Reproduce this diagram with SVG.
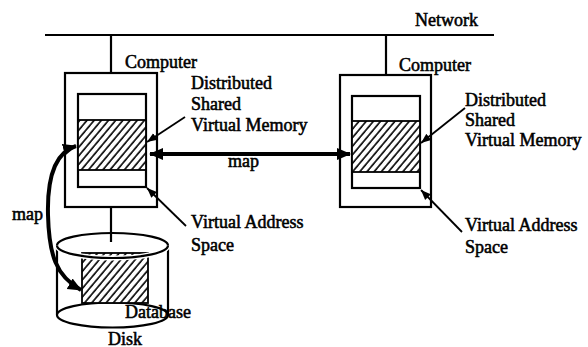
<svg xmlns="http://www.w3.org/2000/svg" width="588" height="347" viewBox="0 0 588 347">
<style>
.t{font-family:"Liberation Serif","Times New Roman",serif;font-size:18px;fill:#000;stroke:#000;stroke-width:0.55}
.box{fill:#fff;stroke:#000;stroke-width:2.2}
.ln{fill:none;stroke:#000;stroke-width:2.2}
.lead{fill:none;stroke:#000;stroke-width:1.8}
.thick{fill:none;stroke:#000;stroke-width:4}
.hat{fill:url(#hatch);stroke:#000;stroke-width:1.8}
</style>
<defs>
<pattern id="hatch" patternUnits="userSpaceOnUse" width="5.5" height="5.5" patternTransform="rotate(40)">
<rect width="5.5" height="5.5" fill="#fff"/>
<line x1="1" y1="0" x2="1" y2="5.5" stroke="#000" stroke-width="1.6"/>
</pattern>
<marker id="ah" markerUnits="userSpaceOnUse" markerWidth="12" markerHeight="10" refX="10" refY="5" orient="auto-start-reverse">
<path d="M0,1 L10,5 L0,9 Z" fill="#000"/>
</marker>
<marker id="ahb" markerUnits="userSpaceOnUse" markerWidth="16" markerHeight="14" refX="13" refY="7" orient="auto-start-reverse">
<path d="M0,1 L14,7 L0,13 Z" fill="#000"/>
</marker>
</defs>
<rect width="588" height="347" fill="#fff"/>

<g id="network">
<line class="ln" x1="45" y1="35" x2="494" y2="35"/>
<text class="t" x="415" y="26">Network</text>
</g>

<g id="computer-left">
<line class="ln" x1="111" y1="35" x2="111" y2="73"/>
<rect class="box" x="65" y="73" width="92" height="134"/>
<rect class="box" x="78" y="94" width="68" height="93"/>
<rect class="hat" x="78" y="120" width="68" height="50"/>
<text class="t" x="125" y="68">Computer</text>
<text class="t" x="191" y="89">Distributed</text>
<text class="t" x="191" y="110">Shared</text>
<text class="t" x="191" y="131">Virtual Memory</text>
<text class="t" x="191" y="228">Virtual Address</text>
<text class="t" x="191" y="251">Space</text>
</g>

<g id="computer-right">
<line class="ln" x1="386" y1="35" x2="386" y2="75"/>
<rect class="box" x="340" y="75" width="91" height="132"/>
<rect class="box" x="352" y="96" width="68" height="92"/>
<rect class="hat" x="352" y="121" width="68" height="51"/>
<text class="t" x="399" y="71">Computer</text>
<text class="t" x="465" y="106">Distributed</text>
<text class="t" x="465" y="126">Shared</text>
<text class="t" x="465" y="146">Virtual Memory</text>
<text class="t" x="465" y="231">Virtual Address</text>
<text class="t" x="465" y="253">Space</text>
</g>

<g id="disk">
<line class="ln" x1="111" y1="207" x2="111" y2="242"/>
<ellipse class="ln" cx="112.5" cy="245.5" rx="55.5" ry="12.5"/>
<line class="ln" x1="57" y1="245.5" x2="57" y2="315"/>
<line class="ln" x1="168" y1="245.5" x2="168" y2="315"/>
<ellipse class="box" cx="112.5" cy="315" rx="55.5" ry="12.5"/>
<rect class="hat" x="82" y="253" width="66" height="50"/>
<path d="M57,245.5 A55.5,12.5 0 0 0 168,245.5" fill="none" stroke="#fff" stroke-width="5"/>
<path d="M57,245.5 A55.5,12.5 0 0 0 168,245.5" class="ln"/>
<text class="t" x="125" y="318">Database</text>
<text class="t" x="108" y="344.5">Disk</text>
</g>

<g id="connectors">
<line class="thick" x1="150" y1="154" x2="350" y2="154" marker-start="url(#ahb)" marker-end="url(#ahb)"/>
<text class="t" x="228" y="167">map</text>
<path class="thick" d="M76,146 C56,152 47,176 48,215 C49,255 56,276 81,290" marker-start="url(#ahb)" marker-end="url(#ahb)"/>
<text class="t" x="12" y="220">map</text>
<line class="lead" x1="185" y1="117" x2="147" y2="142" marker-end="url(#ah)"/>
<line class="lead" x1="465" y1="108" x2="421" y2="143" marker-end="url(#ah)"/>
<line class="lead" x1="186" y1="226" x2="147" y2="188" marker-end="url(#ah)"/>
<line class="lead" x1="462" y1="232" x2="421" y2="190" marker-end="url(#ah)"/>
</g>
</svg>
